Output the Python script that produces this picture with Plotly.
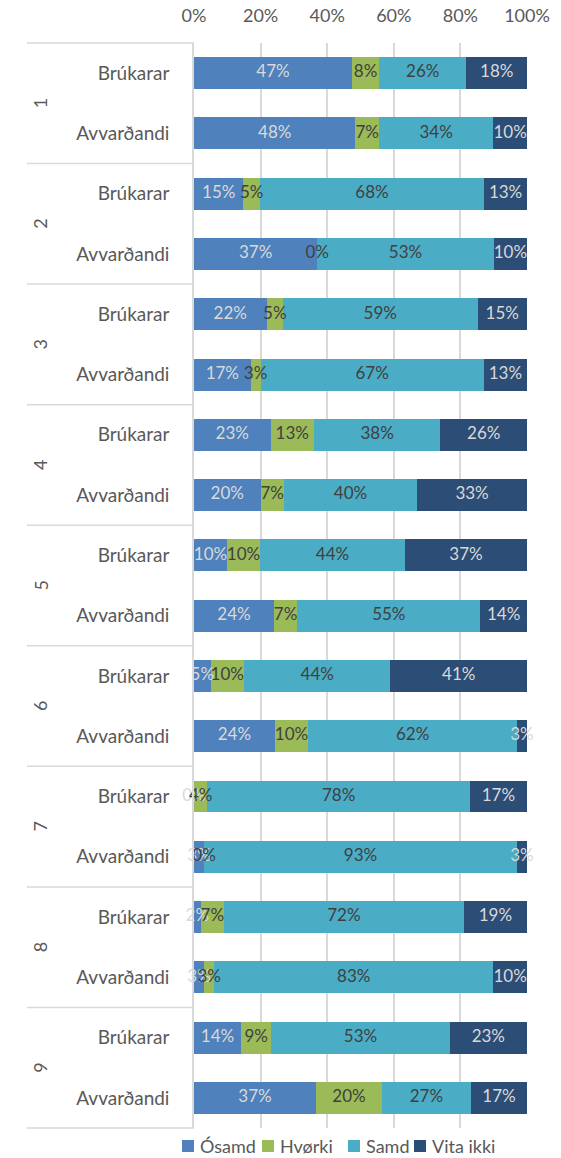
import plotly.graph_objects as go

groups = ["1", "2", "3", "4", "5", "6", "7", "8", "9"]
subs = ["Brúkarar", "Avvarðandi"]
series = ["Ósamd", "Hvørki", "Samd", "Vita ikki"]
colors = ["#4F81BD", "#9BBB59", "#4BACC6", "#2C4D75"]
label_colors = ["#D9D9D9", "#404040", "#404040", "#D9D9D9"]

# rows in order: group 1 Brúkarar, group 1 Avvarðandi, group 2 Brúkarar, ...
osamd = [47, 48, 15, 37, 22, 17, 23, 20, 10, 24, 5, 24, 0, 3, 2, 3, 14, 37]
hvorki = [8, 7, 5, 0, 5, 3, 13, 7, 10, 7, 10, 10, 4, 0, 7, 3, 9, 20]
samd = [26, 34, 68, 53, 59, 67, 38, 40, 44, 55, 44, 62, 78, 93, 72, 83, 53, 27]
vita = [18, 10, 13, 10, 15, 13, 26, 33, 37, 14, 41, 3, 17, 3, 19, 10, 23, 17]

tick_vals = [0, 20, 40, 60, 80, 100]

values = [osamd, hvorki, samd, vita]
keys = [f"{g}|{s}" for g in groups for s in subs]
tick_text = [s for g in groups for s in subs]

totals = [sum(v[i] for v in values) for i in range(len(keys))]
norm = [[v[i] / totals[i] * 100 for i in range(len(keys))] for v in values]

W, H = 561, 1158
ML, MT = 194, 43
MR = W - 527
MB = H - 1128
PW, PH = W - ML - MR, H - MT - MB


def px_x(px):
    return (px - ML) / PW


def px_y(py):
    return (H - MB - py) / PH


font = "Lato, 'Open Sans', sans-serif"
grey = "#595959"
fig = go.Figure()

for k, name in enumerate(series):
    fig.add_trace(go.Bar(
        x=norm[k], y=keys, orientation="h", name=name,
        marker=dict(color=colors[k], line=dict(width=0)),
        width=0.53, showlegend=False,
    ))

# data labels
for k, name in enumerate(series):
    mids = []
    for i in range(len(keys)):
        start = sum(norm[j][i] for j in range(k))
        mids.append(start + norm[k][i] / 2)
    fig.add_trace(go.Scatter(
        x=mids, y=keys, mode="text",
        text=[f"{v}%" for v in values[k]],
        textposition="middle center",
        textfont=dict(family=font, size=17, color=label_colors[k]),
        showlegend=False, hoverinfo="skip", cliponaxis=False,
    ))

fig.update_layout(
    barmode="stack",
    width=W, height=H,
    margin=dict(l=ML, r=MR, t=MT, b=MB, autoexpand=False),
    paper_bgcolor="white", plot_bgcolor="white",
    font=dict(family=font, size=18, color=grey),
    showlegend=False,
)

fig.update_xaxes(
    side="top", range=[0, 100], tickvals=tick_vals,
    ticktext=[f"{t}%" for t in tick_vals],
    showgrid=True, gridcolor="#D9D9D9", gridwidth=1.5,
    zeroline=False, showline=False, ticks="", ticklabelstandoff=16,
    tickfont=dict(size=18, color=grey), fixedrange=True,
)
fig.update_yaxes(
    type="category", categoryorder="array", categoryarray=keys,
    range=[len(keys) - 0.5, -0.5], tickvals=keys, ticktext=tick_text,
    showgrid=False, showline=True, linecolor="#D9D9D9", linewidth=1.5,
    ticks="", ticklabelstandoff=19, tickfont=dict(size=19, color=grey),
    fixedrange=True,
)

# group separators and group labels
n = len(groups)
for g in range(n + 1):
    fig.add_shape(type="line", xref="paper", yref="paper",
                  x0=px_x(27), x1=0, y0=g / n, y1=g / n,
                  line=dict(color="#D9D9D9", width=1.5))
for g, name in enumerate(groups):
    fig.add_annotation(text=name, xref="paper", yref="paper",
                       x=px_x(40), y=1 - (g + 0.5) / n, showarrow=False,
                       textangle=-90, xanchor="center", yanchor="middle",
                       font=dict(size=18, color=grey))

# legend (drawn manually to match spacing)
leg_box_x = [182, 262, 348, 414]
leg_y = 1146
for k, name in enumerate(series):
    x0 = leg_box_x[k]
    fig.add_shape(type="rect", xref="paper", yref="paper",
                  x0=px_x(x0), x1=px_x(x0 + 12),
                  y0=px_y(leg_y + 6), y1=px_y(leg_y - 6),
                  fillcolor=colors[k], line=dict(width=0))
    fig.add_annotation(text=name, xref="paper", yref="paper",
                       x=px_x(x0 + 16), y=px_y(leg_y), showarrow=False,
                       xanchor="left", yanchor="middle",
                       font=dict(size=18, color=grey))

fig.write_html(
    "out.html",
    config={"displayModeBar": False},
    post_script="document.body.style.margin='0';document.body.style.overflow='hidden';",
)
